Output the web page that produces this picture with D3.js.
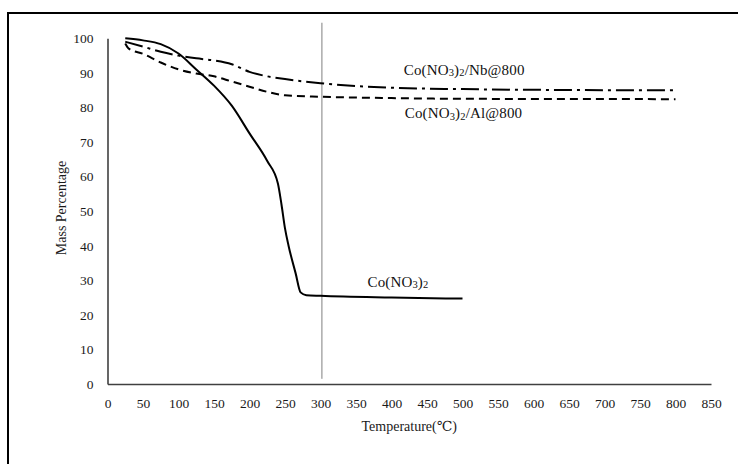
<!DOCTYPE html>
<html>
<head>
<meta charset="utf-8">
<script src="https://cdn.jsdelivr.net/npm/d3@7"></script>
<style>
  body { margin: 0; background: #fff; }
</style>
</head>
<body>
<div id="chart"></div>
<script>
// temperature (C) and mass percentage
var coTemp = [25, 50, 75, 100, 125, 150, 175, 200, 225, 240, 245, 250, 255, 265, 272, 280, 300, 400, 500];
var coMass = [100, 99.4, 98.3, 95.6, 91, 86.3, 80.5, 72.5, 64.5, 58, 52, 45, 40, 32, 26.5, 25.7, 25.5, 25, 24.7];

var nbTemp = [25, 50, 75, 100, 125, 150, 175, 200, 225, 250, 300, 350, 400, 500, 600, 700, 800];
var nbMass = [99, 97.6, 96.1, 95, 94.2, 93.6, 92.5, 90.3, 89, 88.2, 87, 86.2, 85.7, 85.3, 85.1, 85, 85];

var alTemp = [25, 30, 50, 75, 100, 125, 150, 175, 200, 225, 250, 300, 400, 500, 800];
var alMass = [98.5, 97, 95.5, 93, 91, 89.8, 89, 87.5, 86, 84.5, 83.5, 83.1, 82.7, 82.5, 82.4];

var xTicks = d3.range(0, 851, 50);
var yTicks = d3.range(0, 101, 10);

var serif = "'Liberation Serif', 'DejaVu Serif', serif";

function program() {
    var width = 738,
        height = 464;

    var svg = d3.select("#chart")
        .append("svg")
        .attr("width", width)
        .attr("height", height);

    svg.append("rect")
        .attr("width", width)
        .attr("height", height)
        .attr("fill", "#fff");

    // outer frame, runs off the right and bottom edge
    svg.append("rect")
        .attr("x", 8)
        .attr("y", 13)
        .attr("width", 760)
        .attr("height", 480)
        .attr("fill", "none")
        .attr("stroke", "#000")
        .attr("stroke-width", 2);

    var x = d3.scaleLinear().domain([0, 850]).range([107.5, 711]);
    var y = d3.scaleLinear().domain([0, 100]).range([384, 38.3]);

    var xAxis = svg.append("g")
        .attr("transform", "translate(0," + y(0) + ")")
        .call(d3.axisBottom(x).tickValues(xTicks).tickSize(0).tickPadding(14.2));
    var yAxis = svg.append("g")
        .attr("transform", "translate(" + x(0) + ",0)")
        .call(d3.axisLeft(y).tickValues(yTicks).tickSize(0).tickPadding(14));

    [xAxis, yAxis].forEach(function(g) {
        g.attr("font-size", 13.5).attr("font-family", serif);
        g.select(".domain").attr("stroke", "#404040").attr("stroke-width", 1.6);
        g.selectAll("text").attr("fill", "#1a1a1a");
    });

    // vertical marker near 300 C
    svg.append("line")
        .attr("x1", x(302)).attr("x2", x(302))
        .attr("y1", y(104.5)).attr("y2", y(1.5))
        .attr("stroke", "#7f7f7f")
        .attr("stroke-width", 1);

    var series = [
        { t: coTemp, m: coMass, dash: null },
        { t: nbTemp, m: nbMass, dash: "18,5,3,5" },
        { t: alTemp, m: alMass, dash: "8,5" }
    ];

    var line = d3.line()
        .x(function(d) { return x(d[0]); })
        .y(function(d) { return y(d[1]); })
        .curve(d3.curveMonotoneX);

    svg.append("g")
        .selectAll("path")
        .data(series)
        .join("path")
        .attr("d", function(s) { return line(d3.zip(s.t, s.m)); })
        .attr("fill", "none")
        .attr("stroke", "#000")
        .attr("stroke-width", 2)
        .attr("stroke-dasharray", function(s) { return s.dash; });

    // series labels, digits after NO and ) are subscripts
    function label(tx, ty, tail) {
        var t = svg.append("text")
            .attr("x", x(tx))
            .attr("y", y(ty))
            .attr("font-family", serif)
            .attr("font-size", 15)
            .attr("letter-spacing", 0.15)
            .attr("fill", "#111");
        var parts = [["Co(NO", false], ["3", true], [")", false], ["2", true]];
        if (tail) parts.push([tail, false]);
        var low = false;
        parts.forEach(function(p) {
            var dy = 0;
            if (p[1] && !low) dy = 1.5;
            if (!p[1] && low) dy = -1.5;
            low = p[1];
            t.append("tspan")
                .attr("font-size", p[1] ? 10.5 : 15)
                .attr("dy", dy)
                .text(p[0]);
        });
    }
    label(417.3, 89.4, "/Nb@800");
    label(418.7, 76.9, "/Al@800");
    label(366.2, 28.1, null);

    svg.append("text")
        .attr("x", (x(0) + x(850)) / 2)
        .attr("y", 431)
        .attr("text-anchor", "middle")
        .attr("font-family", serif)
        .attr("font-size", 14)
        .attr("fill", "#1a1a1a")
        .text("Temperature(\u2103)");

    svg.append("text")
        .attr("transform", "translate(66,208) rotate(-90)")
        .attr("text-anchor", "middle")
        .attr("font-family", serif)
        .attr("font-size", 14)
        .attr("fill", "#1a1a1a")
        .text("Mass Percentage");
}

program();
</script>
</body>
</html>
